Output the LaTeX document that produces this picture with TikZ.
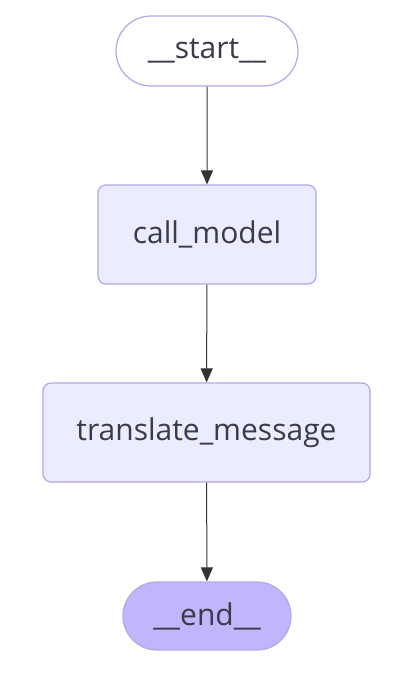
\documentclass[tikz,border=0pt]{standalone}
\usepackage{fontspec}
\setmainfont{Open Sans}
\usetikzlibrary{arrows.meta,shapes.misc}
\definecolor{nodefill}{HTML}{ECECFF}
\definecolor{nodeborder}{HTML}{B4A7E6}
\definecolor{endfill}{HTML}{BFB6FC}
\definecolor{txt}{HTML}{3A3A48}
\definecolor{edge}{HTML}{333333}
\tikzset{
  x=1pt, y=-1pt,
  base/.style={draw=nodeborder, line width=1.2pt, text=txt, font=\fontsize{30}{35}\selectfont, inner sep=0pt, anchor=center},
  terminal/.style={base, rounded rectangle},
  stepbox/.style={base, rounded corners=8pt, fill=nodefill},
  flow/.style={draw=edge, line width=1pt, -{Triangle[length=14pt,width=12pt]}}
}
\begin{document}
\begin{tikzpicture}
\useasboundingbox[fill=white] (0,0) rectangle (400,680);
\node[terminal, fill=white, minimum width=182pt, minimum height=70pt] (start) at (207,51) {\_\_start\_\_};
\node[stepbox, minimum width=218pt, minimum height=99pt] (call) at (207,234.5) {call\_model};
\node[stepbox, minimum width=327pt, minimum height=99pt] (trans) at (206.5,432.5) {translate\_message};
\node[terminal, fill=endfill, minimum width=168pt, minimum height=68pt] (end) at (207,616) {\_\_end\_\_};
\draw[flow] (start) -- (call);
\draw[flow] (call) -- (trans);
\draw[flow] (trans) -- (end);
\end{tikzpicture}
\end{document}
